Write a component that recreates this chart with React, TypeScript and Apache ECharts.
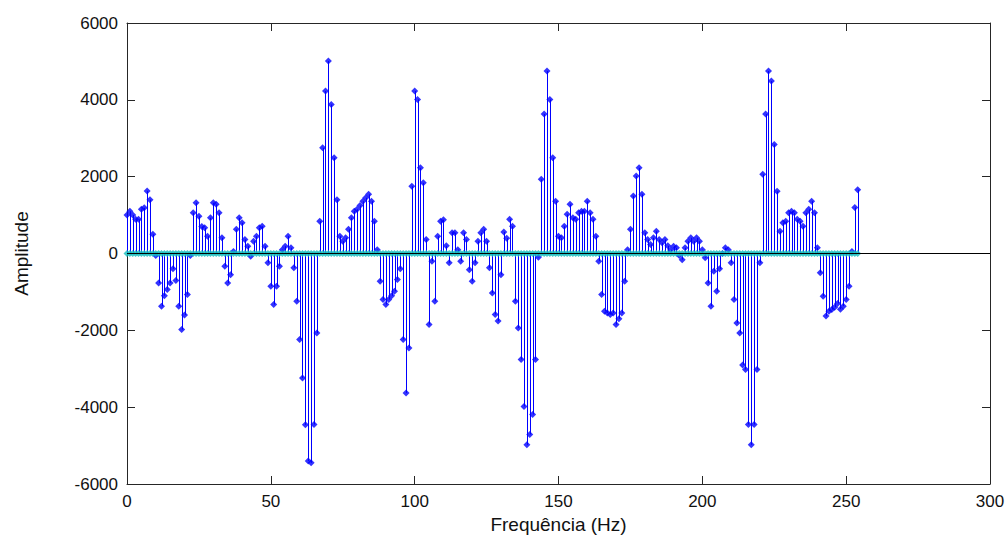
import React, { useEffect, useRef } from 'react';
import * as echarts from 'echarts';

const blueValues = [
  1000, 1100, 1000, 890, 890, 1150, 1190, 1630, 1400, 500,
  -50, -770, -1370, -1100, -940, -770, -400, -700, -1370, -1980,
  -1600, -1070, -50, 1060, 1320, 970, 700, 670, 450, 930,
  1320, 1280, 1060, 410, -330, -770, -550, 50, 630, 930,
  800, 365, 190, -70, 320, 450, 670, 710, 190, -240,
  -850, -1330, -850, -330, 100, 190, 450, 150, -370, -1240,
  -2240, -3240, -4460, -5400, -5450, -4450, -2070, 840, 2750, 4230,
  5010, 3880, 2490, 1400, 450, 320, 410, 630, 930, 1100,
  1150, 1250, 1360, 1450, 1540, 1360, 840, 100, -720, -1200,
  -1330, -1200, -1100, -980, -680, -400, -2240, -3630, -2460, 1750,
  4230, 4010, 2230, 1840, 365, -1850, -200, -1240, 450, 840,
  880, 200, -240, 540, 540, 100, -200, 540, 365, -420,
  -720, -240, 320, 540, 630, 320, -370, -1030, -1590, -1760,
  -550, 560, 400, 890, 710, -1240, -1940, -2760, -3980, -4980,
  -4710, -4190, -2760, -100, 1930, 3630, 4750, 4010, 2490, 1360,
  450, 410, 710, 1020, 1280, 930, 890, 1060, 1100, 1100,
  1360, 1060, 890, 450, -200, -1070, -1500, -1550, -1590, -1550,
  -1850, -1700, -1550, -720, 100, 630, 1500, 2020, 2230, 1540,
  540, 365, 235, 410, 580, 365, 280, 365, 200, 100,
  190, 150, -50, -160, 150, 320, 410, 320, 410, 320,
  100, -110, -770, -1370, -460, -980, -400, 0, 150, 100,
  -240, -1200, -1810, -2070, -2900, -3020, -4450, -4980, -4450, -3020,
  -240, 2060, 3630, 4750, 4490, 2840, 1620, 580, 800, 840,
  1060, 1100, 1060, 890, 840, 710, 1060, 1150, 1360, 1060,
  150, -500, -1110, -1630, -1500, -1460, -1400, -1300, -1450, -1370,
  -1200, -850, 50, 1200, 1660,
];

// Second stem series (near zero everywhere)
const cyanValues = [
  0, 0, 0, 0, 0, 0, 0, 0, 0, 0, 0, 0, 0, 0, 0, 0, 0, 0, 0, 0,
  0, 0, 0, 0, 0, 0, 0, 0, 0, 0, 0, 0, 0, 0, 0, 0, 0, 0, 0, 0,
  0, 0, 0, 0, 0, 0, 0, 0, 0, 0, 0, 0, 0, 0, 0, 0, 0, 0, 0, 0,
  0, 0, 0, 0, 0, 0, 0, 0, 0, 0, 0, 0, 0, 0, 0, 0, 0, 0, 0, 0,
  0, 0, 0, 0, 0, 0, 0, 0, 0, 0, 0, 0, 0, 0, 0, 0, 0, 0, 0, 0,
  0, 0, 0, 0, 0, 0, 0, 0, 0, 0, 0, 0, 0, 0, 0, 0, 0, 0, 0, 0,
  0, 0, 0, 0, 0, 0, 0, 0, 0, 0, 0, 0, 0, 0, 0, 0, 0, 0, 0, 0,
  0, 0, 0, 0, 0, 0, 0, 0, 0, 0, 0, 0, 0, 0, 0, 0, 0, 0, 0, 0,
  0, 0, 0, 0, 0, 0, 0, 0, 0, 0, 0, 0, 0, 0, 0, 0, 0, 0, 0, 0,
  0, 0, 0, 0, 0, 0, 0, 0, 0, 0, 0, 0, 0, 0, 0, 0, 0, 0, 0, 0,
  0, 0, 0, 0, 0, 0, 0, 0, 0, 0, 0, 0, 0, 0, 0, 0, 0, 0, 0, 0,
  0, 0, 0, 0, 0, 0, 0, 0, 0, 0, 0, 0, 0, 0, 0, 0, 0, 0, 0, 0,
  0, 0, 0, 0, 0, 0, 0, 0, 0, 0, 0, 0, 0, 0, 0,
];

const freqStep = 1; // Hz between bins
const xMin = 0;
const xMax = 300;
const xInterval = 50;
const yMin = -6000;
const yMax = 6000;
const yInterval = 2000;

export default function App() {
  const ref = useRef<HTMLDivElement>(null);

  useEffect(() => {
    document.body.style.margin = '0';
    const chart = echarts.init(ref.current!, null, { renderer: 'svg' });
    const bluePts = blueValues.map((v, i) => [i * freqStep, v]);
    const cyanPts = cyanValues.map((v, i) => [i * freqStep, v]);
    const axisColor = '#262626';
    const font = 'Arial, "Liberation Sans", sans-serif';
    const tickStyle = { color: '#111', fontSize: 17, fontFamily: font };
    const nameStyle = { color: '#111', fontSize: 19, fontFamily: font };

    const baseX = {
      type: 'value',
      min: xMin,
      max: xMax,
      interval: xInterval,
      axisLine: { show: true, onZero: false, lineStyle: { color: axisColor, width: 1 } },
      axisTick: { show: true, inside: true, length: 8, lineStyle: { color: axisColor } },
      splitLine: { show: false },
    };
    const baseY = {
      type: 'value',
      min: yMin,
      max: yMax,
      interval: yInterval,
      axisLine: { show: true, onZero: false, lineStyle: { color: axisColor, width: 1 } },
      axisTick: { show: true, inside: true, length: 8, lineStyle: { color: axisColor } },
      splitLine: { show: false },
    };

    chart.setOption({
      animation: false,
      backgroundColor: '#ffffff',
      grid: { left: 127, right: 18, top: 23, bottom: 71 },
      xAxis: [
        {
          ...baseX,
          position: 'bottom',
          axisLabel: { ...tickStyle, margin: 9, formatter: (v: number) => String(v) },
          name: 'Frequência (Hz)',
          nameLocation: 'middle',
          nameGap: 30,
          nameTextStyle: nameStyle,
        },
        { ...baseX, position: 'top', axisLabel: { show: false } },
      ],
      yAxis: [
        {
          ...baseY,
          position: 'left',
          axisLabel: { ...tickStyle, margin: 9, formatter: (v: number) => String(v) },
          name: 'Amplitude',
          nameLocation: 'middle',
          nameGap: 96,
          nameRotate: 90,
          nameTextStyle: nameStyle,
        },
        { ...baseY, position: 'right', axisLabel: { show: false } },
      ],
      series: [
        {
          type: 'custom',
          xAxisIndex: 0,
          yAxisIndex: 0,
          data: bluePts,
          z: 2,
          renderItem: (params: any, api: any) => {
            const x = api.value(0);
            const y = api.value(1);
            const p0 = api.coord([x, 0]);
            const p1 = api.coord([x, y]);
            const px = Math.round(p0[0]) + 0.5;
            return {
              type: 'line',
              shape: { x1: px, y1: p0[1], x2: px, y2: p1[1] },
              style: { stroke: '#0000ff', lineWidth: 1 },
            };
          },
          markLine: {
            silent: true,
            symbol: 'none',
            label: { show: false },
            lineStyle: { color: '#000000', width: 1, type: 'solid' },
            data: [{ yAxis: 0 }],
          },
        },
        {
          type: 'scatter',
          xAxisIndex: 0,
          yAxisIndex: 0,
          data: bluePts,
          symbol: 'diamond',
          symbolSize: 7,
          itemStyle: { color: '#0000ff' },
          z: 3,
        },
        {
          type: 'scatter',
          xAxisIndex: 0,
          yAxisIndex: 0,
          data: cyanPts,
          symbol: 'diamond',
          symbolSize: 7,
          itemStyle: { color: '#16bebe' },
          z: 4,
        },
      ],
    });

    return () => {
      chart.dispose();
    };
  }, []);

  return <div ref={ref} style={{ width: 1008, height: 555 }} />;
}
